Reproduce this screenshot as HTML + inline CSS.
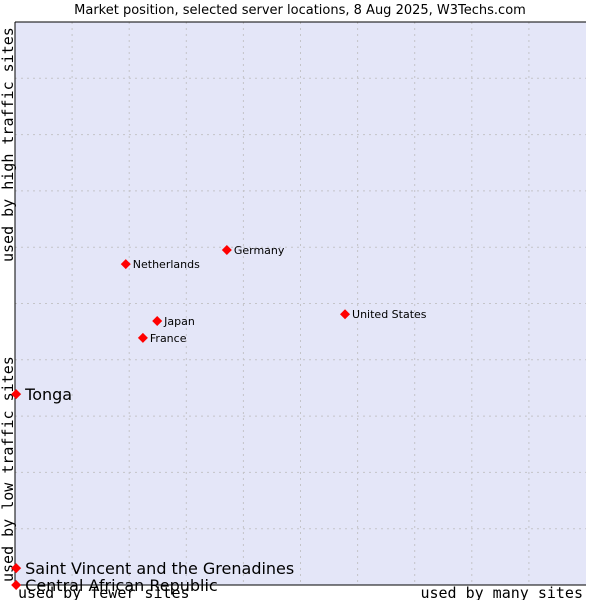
<!DOCTYPE html>
<html><head><meta charset="utf-8"><style>body{margin:0;background:#fff}svg{display:block}</style></head>
<body>
<svg id="c" width="600" height="600" xmlns="http://www.w3.org/2000/svg" font-family="'DejaVu Sans', 'Liberation Sans', sans-serif">
<text x="300" y="14" text-anchor="middle" font-size="13" fill="#000">Market position, selected server locations, 8 Aug 2025, W3Techs.com</text>
<rect x="15" y="22" width="571" height="563" fill="#e4e6f8"/>
<g id="grid"></g>
<line x1="15" y1="22" x2="15" y2="585" stroke="#000"/>
<line x1="15" y1="585" x2="586" y2="585" stroke="#000"/>
<line x1="15" y1="22" x2="586" y2="22" stroke="#000"/>
<text x="18" y="598" font-family="'DejaVu Sans Mono','Liberation Mono',monospace" font-size="15">used by fewer sites</text>
<text x="583" y="598" text-anchor="end" font-family="'DejaVu Sans Mono','Liberation Mono',monospace" font-size="15">used by many sites</text>
<text transform="translate(13,582) rotate(-90)" font-family="'DejaVu Sans Mono','Liberation Mono',monospace" font-size="15">used by low traffic sites</text>
<text transform="translate(13,262) rotate(-90)" font-family="'DejaVu Sans Mono','Liberation Mono',monospace" font-size="15">used by high traffic sites</text>
<g id="pts"></g>
</svg>
<script>
const names = ["Netherlands","Germany","Japan","France","United States","Tonga","Saint Vincent and the Grenadines","Central African Republic"];
const xVals = [19.4,37.1,24.9,22.4,57.8,0.2,0.2,0.2];
const yVals = [57.0,59.5,46.9,43.9,48.1,33.9,3.0,0.0];
const bigLabel = [false,false,false,false,false,true,true,true];
const ns="http://www.w3.org/2000/svg";
const L=15,R=586,T=22,B=585;
const sx=v=>L+v/100*(R-L), sy=v=>B-v/100*(B-T);
const g=document.getElementById('grid');
for(let i=1;i<10;i++){
  const vl=document.createElementNS(ns,'line');
  
  
  vl.setAttribute('x1',sx(i*10));vl.setAttribute('x2',sx(i*10));vl.setAttribute('y1',T);vl.setAttribute('y2',B);
  vl.setAttribute('stroke','#c4c4c8');vl.setAttribute('stroke-dasharray','2,4');g.appendChild(vl);
  const hl=document.createElementNS(ns,'line');
  
  
  hl.setAttribute('y1',sy(i*10));hl.setAttribute('y2',sy(i*10));hl.setAttribute('x1',L);hl.setAttribute('x2',R);
  hl.setAttribute('stroke','#c4c4c8');hl.setAttribute('stroke-dasharray','2,4');g.appendChild(hl);
}
const p=document.getElementById('pts');
names.forEach((n,i)=>{
  const x=sx(xVals[i]),y=sy(yVals[i]);
  const d=document.createElementNS(ns,'path');
  
  
  d.setAttribute('d',`M${x} ${y-5}L${x+5} ${y}L${x} ${y+5}L${x-5} ${y}Z`);
  d.setAttribute('fill','#f00');p.appendChild(d);
  const t=document.createElementNS(ns,'text');
  
  
  t.setAttribute('x',x+(bigLabel[i]?9:7));
  t.setAttribute('y',y+(bigLabel[i]?6:4));
  t.setAttribute('font-size',bigLabel[i]?16:11);
  t.textContent=n;p.appendChild(t);
});
</script>
</body></html>
